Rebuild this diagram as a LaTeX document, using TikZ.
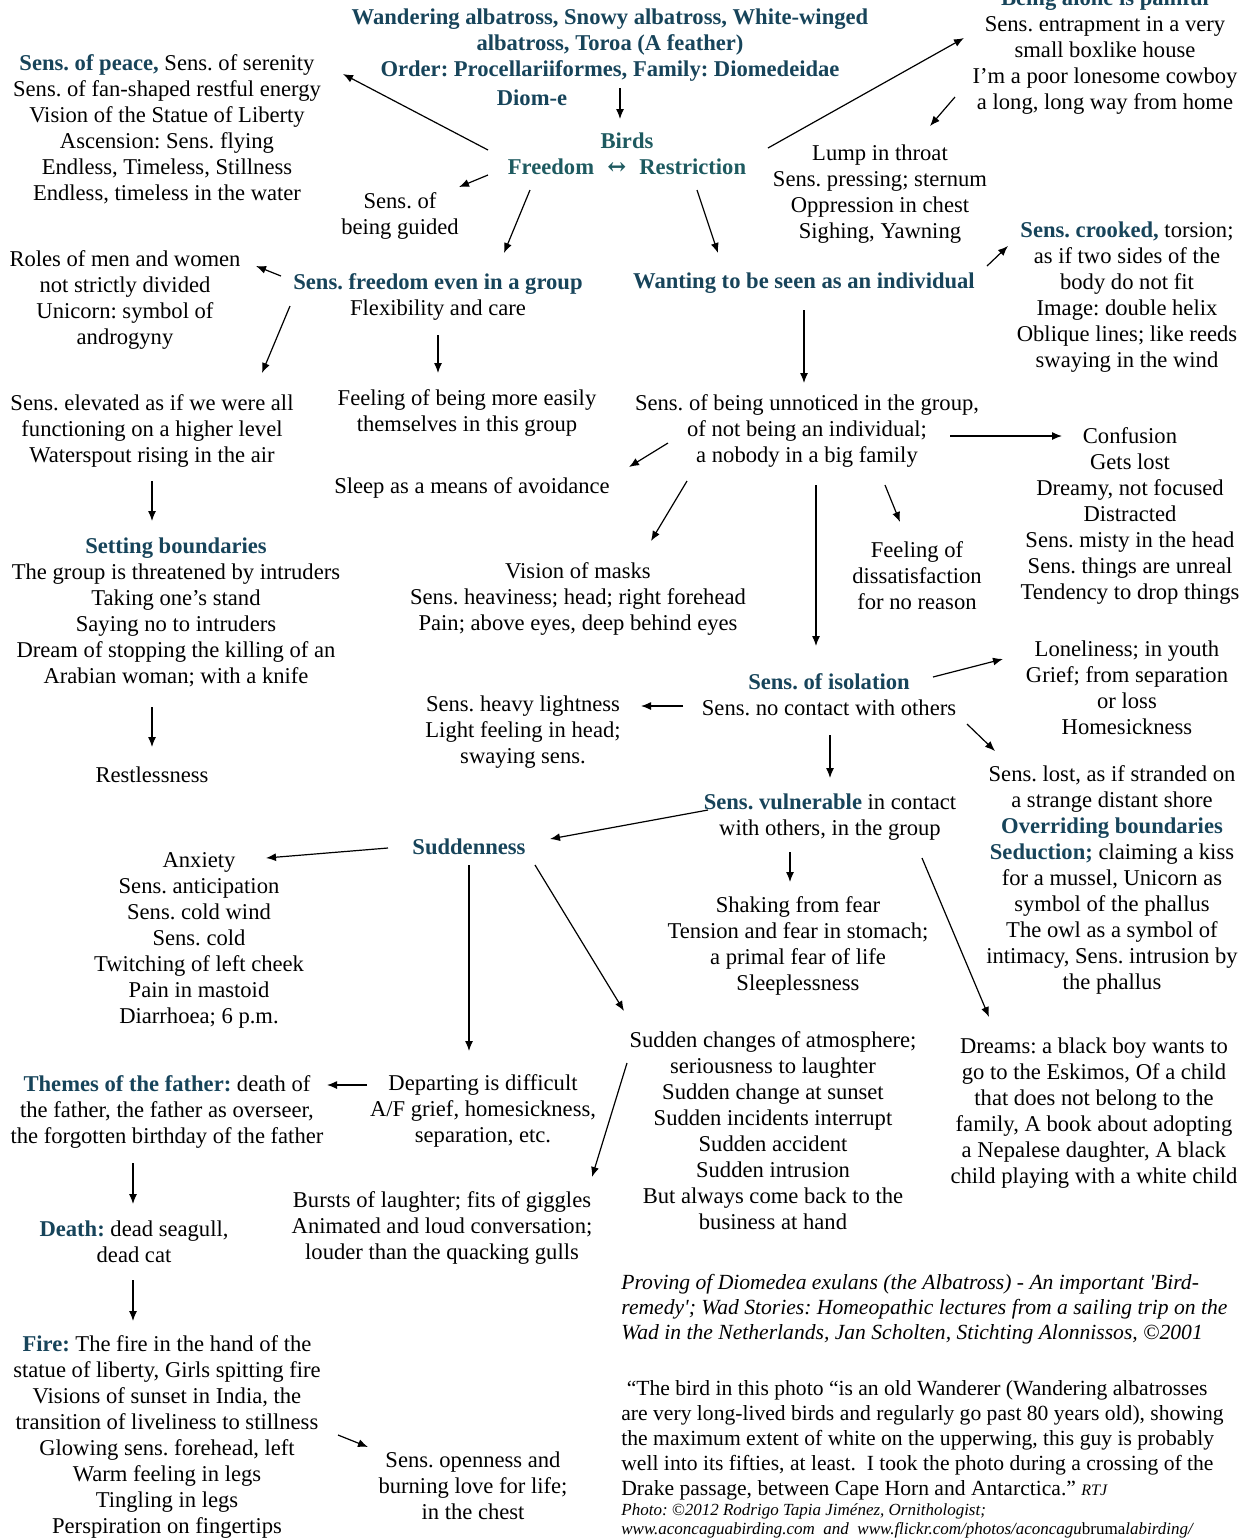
\documentclass[tikz,border=0pt]{standalone}
\usepackage{fontspec}
\setmainfont{Liberation Serif}
\newfontfamily\arrowfont{DejaVu Serif}
\usetikzlibrary{arrows.meta}
\definecolor{teal}{HTML}{17445A}
\definecolor{birdteal}{HTML}{1E5A60}
\newcommand\fs{\fontsize{11.3}{13}\selectfont}
\newcommand\hd[1]{\textbf{\textcolor{teal}{#1}}}
\newcommand\myarr[3]{\coordinate (#1s) at #2; \coordinate (#1e) at #3; \draw[arr] (#1s) -- (#1e);}
\frenchspacing
\begin{document}
\begin{tikzpicture}[x=0.5pt,y=-0.5pt,
  txt/.style={align=center,inner sep=0pt,font=\fs,yshift=-0.8pt},
  ltxt/.style={align=left,inner sep=0pt,anchor=west},
  arr/.style={line width=0.6pt,-{Latex[length=5pt,width=4pt]}}]
\useasboundingbox (0,0) rectangle (1247,1539);
% title
\node[txt,text=teal,font=\fs\bfseries] (title) at (610,43) {Wandering albatross, Snowy albatross, White-winged\\albatross, Toroa (A feather)\\Order: Procellariiformes, Family: Diomedeidae};
\node[txt,text=teal,font=\fs\bfseries] (diom) at (532,96) {Diom-e};
\node[txt,text=birdteal,font=\fs\bfseries] (birds) at (627,152) {Birds\\Freedom\,\, {\arrowfont\bfseries ↔}\,\, Restriction};
\node[txt] (peace) at (167,128) {\hd{Sens. of peace,} Sens. of serenity\\Sens. of fan-shaped restful energy\\Vision of the Statue of Liberty\\Ascension: Sens. flying\\Endless, Timeless, Stillness\\Endless, timeless in the water};
\node[txt] (guided) at (400,214) {Sens. of\\being guided};
\node[txt] (alone) at (1105,50) {\hd{Being alone is painful}\\Sens. entrapment in a very\\small boxlike house\\I’m a poor lonesome cowboy\\a long, long way from home};
\node[txt] (lump) at (880,192) {Lump in throat\\Sens. pressing; sternum\\Oppression in chest\\Sighing, Yawning};
\node[txt] (fgroup) at (438,295) {\hd{Sens. freedom even in a group}\\Flexibility and care};
\node[txt] (wanting) at (804,282) {\hd{Wanting to be seen as an individual}};
\node[txt] (crooked) at (1127,295) {\hd{Sens. crooked,} torsion;\\as if two sides of the\\body do not fit\\Image: double helix\\Oblique lines; like reeds\\swaying in the wind};
\node[txt] (roles) at (125,298) {Roles of men and women\\not strictly divided\\Unicorn: symbol of\\androgyny};
\node[txt] (elevated) at (152,429) {Sens. elevated as if we were all\\functioning on a higher level\\Waterspout rising in the air};
\node[txt] (setting) at (176,611) {\hd{Setting boundaries}\\The group is threatened by intruders\\Taking one’s stand\\Saying no to intruders\\Dream of stopping the killing of an\\Arabian woman; with a knife};
\node[txt] (restless) at (152,773) {Restlessness};
\node[txt] (easily) at (467,411) {Feeling of being more easily\\themselves in this group};
\node[txt] (sleep) at (472,486) {Sleep as a means of avoidance};
\node[txt] (unnoticed) at (807,429) {Sens. of being unnoticed in the group,\\of not being an individual;\\a nobody in a big family};
\node[txt] (confusion) at (1130,514) {Confusion\\Gets lost\\Dreamy, not focused\\Distracted\\Sens. misty in the head\\Sens. things are unreal\\Tendency to drop things};
\node[txt] (masks) at (578,597) {Vision of masks\\Sens. heaviness; head; right forehead\\Pain; above eyes, deep behind eyes};
\node[txt] (dissat) at (917,574) {Feeling of\\dissatisfaction\\for no reason};
\node[txt] (isolation) at (829,693) {\hd{Sens. of isolation}\\Sens. no contact with others};
\node[txt] (lonely) at (1127,686) {Loneliness; in youth\\Grief; from separation\\or loss\\Homesickness};
\node[txt] (heavy) at (523,730) {Sens. heavy lightness\\Light feeling in head;\\swaying sens.};
\node[txt] (lost) at (1112,878) {Sens. lost, as if stranded on\\a strange distant shore\\\hd{Overriding boundaries}\\\hd{Seduction;} claiming a kiss\\for a mussel, Unicorn as\\symbol of the phallus\\The owl as a symbol of\\intimacy, Sens. intrusion by\\the phallus};
\node[txt] (vulnerable) at (830,815) {\hd{Sens. vulnerable} in contact\\with others, in the group};
\node[txt] (suddenness) at (469,845) {\hd{Suddenness}};
\node[txt] (shaking) at (798,944) {Shaking from fear\\Tension and fear in stomach;\\a primal fear of life\\Sleeplessness};
\node[txt] (dreams) at (1094,1111) {Dreams: a black boy wants to\\go to the Eskimos, Of a child\\that does not belong to the\\family, A book about adopting\\a Nepalese daughter, A black\\child playing with a white child};
\node[txt] (anxiety) at (199,939) {Anxiety\\Sens. anticipation\\Sens. cold wind\\Sens. cold\\Twitching of left cheek\\Pain in mastoid\\Diarrhoea; 6 p.m.};
\node[txt] (departing) at (483,1109) {Departing is difficult\\A/F grief, homesickness,\\separation, etc.};
\node[txt] (changes) at (773,1129) {Sudden changes of atmosphere;\\seriousness to laughter\\Sudden change at sunset\\Sudden incidents interrupt\\Sudden accident\\Sudden intrusion\\But always come back to the\\business at hand};
\node[txt] (bursts) at (442,1226) {Bursts of laughter; fits of giggles\\Animated and loud conversation;\\louder than the quacking gulls};
\node[txt] (father) at (167,1110) {\hd{Themes of the father:} death of\\the father, the father as overseer,\\the forgotten birthday of the father};
\node[txt] (death) at (134,1240) {\hd{Death:} dead seagull,\\dead cat};
\node[txt] (fire) at (167,1435) {\hd{Fire:} The fire in the hand of the\\statue of liberty, Girls spitting fire\\Visions of sunset in India, the\\transition of liveliness to stillness\\Glowing sens. forehead, left\\Warm feeling in legs\\Tingling in legs\\Perspiration on fingertips};
\node[txt] (openness) at (473,1484) {Sens. openness and\\burning love for life;\\in the chest};
\node[txt,ltxt,font=\fontsize{10.8}{12.5}\selectfont\itshape] (cite) at (621,1308) {Proving of Diomedea exulans (the Albatross) - An important \textquotesingle Bird-\\remedy\textquotesingle; Wad Stories: Homeopathic lectures from a sailing trip on the\\Wad in the Netherlands, Jan Scholten, Stichting Alonnissos, ©2001};
\node[txt,ltxt,font=\fontsize{10.8}{12.5}\selectfont,anchor=north west] (quote) at (621,1378) {\ “The bird in this photo “is an old Wanderer (Wandering albatrosses\\are very long-lived birds and regularly go past 80 years old), showing\\the maximum extent of white on the upperwing, this guy is probably\\well into its fifties, at least.\ \ I took the photo during a crossing of the\\Drake passage, between Cape Horn and Antarctica.” {\fontsize{8}{9}\selectfont\itshape RTJ}};
\node[txt,ltxt,font=\fontsize{8.5}{9.6}\selectfont\itshape] (photo) at (621,1519) {Photo: ©2012 Rodrigo Tapia Jiménez, Ornithologist;\\www.aconcaguabirding.com\ \ and\ \ www.flickr.com/photos/aconcagu\textup{bruma}labirding/};
% arrows
\myarr{a1}{(620,88)}{(620,119)}
\myarr{a2}{(488,150)}{(343,74)}
\myarr{a3}{(768,148)}{(964,38)}
\myarr{a4}{(488,175)}{(459,187)}
\myarr{a5}{(530,190)}{(504,253)}
\myarr{a6}{(697,190)}{(718,253)}
\myarr{a7}{(955,97)}{(930,126)}
\myarr{a8}{(987,266)}{(1008,246)}
\myarr{a9}{(281,276)}{(256,266)}
\myarr{a10}{(290,306)}{(262,373)}
\myarr{a11}{(152,481)}{(152,521)}
\myarr{a12}{(152,707)}{(152,747)}
\myarr{a13}{(438,335)}{(438,373)}
\myarr{a14}{(804,310)}{(804,383)}
\myarr{a15}{(668,443)}{(629,467)}
\myarr{a16}{(950,436)}{(1062,436)}
\myarr{a17}{(687,481)}{(651,541)}
\myarr{a18}{(885,485)}{(900,522)}
\myarr{a19}{(816,485)}{(816,646)}
\myarr{a20}{(933,677)}{(1003,659)}
\myarr{a21}{(683,706)}{(641,706)}
\myarr{a22}{(967,724)}{(995,751)}
\myarr{a23}{(830,735)}{(830,778)}
\myarr{a24}{(708,810)}{(550,839)}
\myarr{a25}{(790,852)}{(790,882)}
\myarr{a26}{(922,858)}{(989,1017)}
\myarr{a27}{(388,848)}{(266,858)}
\myarr{a28}{(469,865)}{(469,1051)}
\myarr{a29}{(535,865)}{(624,1011)}
\myarr{a30}{(627,1063)}{(592,1177)}
\myarr{a31}{(367,1085)}{(327,1085)}
\myarr{a32}{(133,1163)}{(133,1204)}
\myarr{a33}{(133,1280)}{(133,1321)}
\myarr{a34}{(338,1435)}{(368,1447)}
\end{tikzpicture}
\end{document}
